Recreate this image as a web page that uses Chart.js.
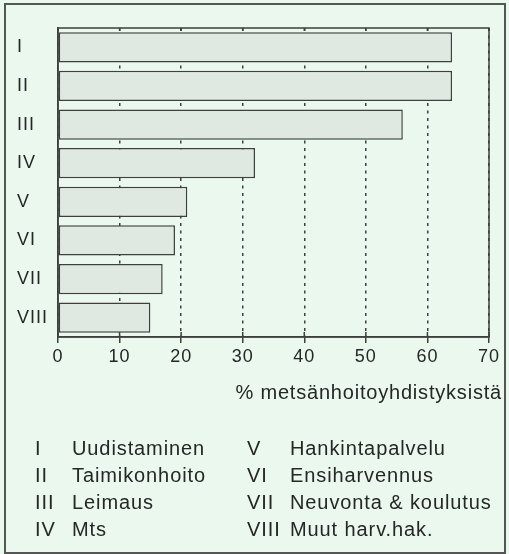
<!DOCTYPE html>
<html>
<head>
<meta charset="utf-8">
<script src="https://cdn.jsdelivr.net/npm/chart.js@4/dist/chart.umd.min.js"></script>
<style>
  html, body { margin: 0; padding: 0; }
  body { width: 509px; height: 554px; background: #eaf8ee; position: relative; overflow: hidden;
         font-family: "Liberation Sans", Arial, Helvetica, sans-serif; color: #262626; }
  #frame { position: absolute; left: 4px; top: 3px; width: 498px; height: 547px; border: 2px solid #555; }
  canvas { position: absolute; left: 0; top: 0; }
  .t { position: absolute; font-size: 20px; line-height: 24px; letter-spacing: 0.9px; white-space: nowrap; }
  #xtitle { right: 7px; top: 380px; letter-spacing: 0.8px; }
</style>
</head>
<body>
<div id="frame"></div>
<canvas id="c" width="509" height="554"></canvas>
<div id="xtitle" class="t"></div>
<div id="legend"></div>
<script>
const categories = ['I', 'II', 'III', 'IV', 'V', 'VI', 'VII', 'VIII'];
const values = [64, 64, 56, 32, 21, 19, 17, 15];
const xTickValues = [0, 10, 20, 30, 40, 50, 60, 70];
const legendNames = ['Uudistaminen', 'Taimikonhoito', 'Leimaus', 'Mts',
                     'Hankintapalvelu', 'Ensiharvennus', 'Neuvonta & koulutus', 'Muut harv.hak.'];
const xTitle = '% metsänhoitoyhdistyksistä';

const ink = '#3f3f3f';
const textColor = '#262626';

const framePlugin = {
  id: 'frame',
  beforeDraw(chart) { chart.ctx.letterSpacing = '1px'; },
  afterDraw(chart) {
    const { ctx, chartArea: a, scales: { x } } = chart;
    ctx.save();
    ctx.strokeStyle = ink;
    ctx.lineWidth = 1.5;
    ctx.strokeRect(a.left, a.top, a.right - a.left, a.bottom - a.top);
    ctx.beginPath();
    x.ticks.forEach(t => {
      const px = x.getPixelForValue(t.value);
      ctx.moveTo(px, a.bottom); ctx.lineTo(px, a.bottom - 5);
      ctx.moveTo(px, a.top); ctx.lineTo(px, a.top + 3);
    });
    ctx.stroke();
    ctx.restore();
  }
};

new Chart(document.getElementById('c'), {
  type: 'bar',
  data: {
    labels: categories,
    datasets: [{
      data: values,
      backgroundColor: '#dfe9e1',
      borderColor: ink,
      borderWidth: 1.5,
      borderSkipped: false,
      barPercentage: 0.78,
      categoryPercentage: 1.0
    }]
  },
  options: {
    indexAxis: 'y',
    responsive: false,
    animation: false,
    devicePixelRatio: 1,
    layout: { padding: { left: 17, top: 28, right: 20, bottom: 177 } },
    plugins: { legend: { display: false }, tooltip: { enabled: false } },
    scales: {
      x: {
        type: 'linear',
        min: 0, max: 70,
        afterBuildTicks(scale) { scale.ticks = xTickValues.map(v => ({ value: v })); },
        afterFit(scale) { scale.height = 40; },
        ticks: {
          font: { family: '"Liberation Sans", Arial, sans-serif', size: 18 },
          color: textColor,
          padding: 3,
          maxRotation: 0
        },
        grid: {
          color: ink,
          lineWidth: 1.5,
          tickLength: 6,
          tickColor: ink,
          tickWidth: 1.5
        },
        border: {
          display: true, color: ink, width: 1.5,
          dash: [3, 4.5]
        }
      },
      y: {
        type: 'category',
        afterFit(scale) { scale.width = 41; },
        ticks: {
          font: { family: '"Liberation Sans", Arial, sans-serif', size: 18 },
          color: textColor,
          crossAlign: 'far',
          padding: 0
        },
        grid: { display: false, drawTicks: false },
        border: { display: true, color: ink, width: 1.5 }
      }
    }
  },
  plugins: [framePlugin]
});

document.getElementById('xtitle').textContent = xTitle;

const legend = document.getElementById('legend');
const rowTops = [436, 463, 490, 517];
legendNames.forEach((name, i) => {
  const col = Math.floor(i / 4), row = i % 4;
  const num = document.createElement('div');
  num.className = 't';
  num.textContent = categories[i];
  num.style.left = (col ? 247 : 35) + 'px';
  num.style.top = rowTops[row] + 'px';
  const lab = document.createElement('div');
  lab.className = 't';
  lab.textContent = name;
  lab.style.left = (col ? 290 : 72) + 'px';
  lab.style.top = rowTops[row] + 'px';
  legend.appendChild(num);
  legend.appendChild(lab);
});
</script>
</body>
</html>
